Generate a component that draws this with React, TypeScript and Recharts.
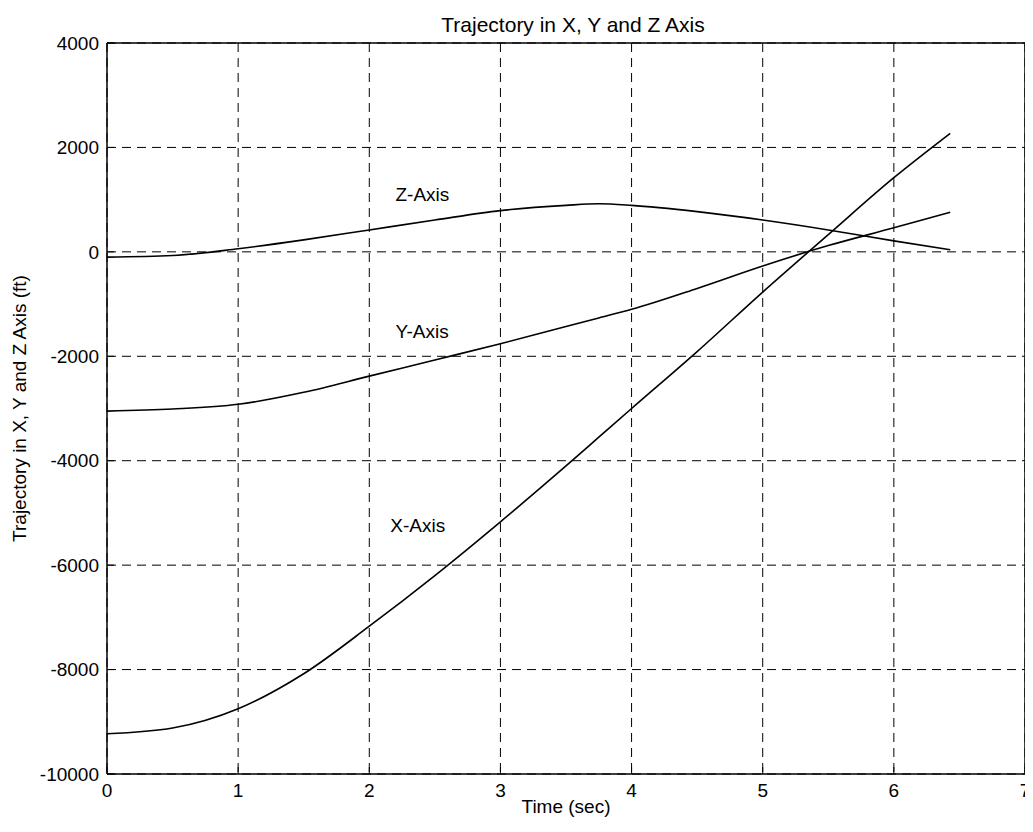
import {
  LineChart,
  Line,
  XAxis,
  YAxis,
  CartesianGrid,
  ReferenceLine,
  ReferenceDot,
} from "recharts";

const times = [0, 0.5, 1, 1.5, 2, 2.5, 3, 3.5, 3.75, 4, 4.5, 5, 5.5, 6, 6.43];
const xAxisTraj = [-9230, -9120, -8750, -8080, -7170, -6200, -5170, -4100, -3550, -3000, -1910, -770, 330, 1420, 2270];
const yAxisTraj = [-3050, -3010, -2920, -2690, -2380, -2070, -1760, -1430, -1265, -1100, -700, -270, 120, 460, 760];
const zAxisTraj = [-100, -70, 60, 230, 420, 610, 790, 890, 920, 890, 770, 610, 420, 210, 40];

const xTicks = [0, 1, 2, 3, 4, 5, 6, 7];
const yTicks = [-10000, -8000, -6000, -4000, -2000, 0, 2000, 4000];

// curve name tags, placed in data units
const tags = [
  { text: "Z-Axis", t: 2.2, v: 1100 },
  { text: "Y-Axis", t: 2.2, v: -1530 },
  { text: "X-Axis", t: 2.16, v: -5230 },
];

const data = times.map((t, i) => ({
  t,
  x: xAxisTraj[i],
  y: yAxisTraj[i],
  z: zAxisTraj[i],
}));

const FONT = '"Liberation Sans", Arial, Helvetica, sans-serif';
const tickStyle = { fill: "#000", fontSize: 19, fontFamily: FONT };

const App = () => {
  return (
    <div style={{ position: "relative", width: 1025, height: 816, background: "#fff", fontFamily: FONT }}>
      <div
        style={{
          position: "absolute",
          left: 0,
          width: 1130,
          top: 5,
          textAlign: "center",
          fontSize: 21,
          color: "#000",
          lineHeight: "24px",
        }}
      >
        Trajectory in X, Y and Z Axis
      </div>
      <LineChart
        width={1025}
        height={816}
        data={data}
        style={{ overflow: "visible" }}
        margin={{ top: 35, right: 8, bottom: 0, left: 0 }}
      >
        <CartesianGrid
          stroke="#000"
          strokeDasharray="9 6"
          strokeWidth={1}
          horizontalValues={yTicks}
          verticalValues={xTicks}
        />
        <XAxis
          dataKey="t"
          type="number"
          domain={[0, 7]}
          ticks={xTicks}
          interval={0}
          height={50}
          axisLine={{ stroke: "#000", strokeWidth: 1.5 }}
          tickLine={{ stroke: "#000" }}
          tickSize={-7}
          tickMargin={17}
          tick={tickStyle}
          label={{
            value: "Time (sec)",
            position: "insideBottom",
            offset: 11,
            fill: "#000",
            fontSize: 19,
            fontFamily: FONT,
          }}
        />
        <YAxis
          type="number"
          domain={[-10000, 4000]}
          ticks={yTicks}
          width={99}
          interval={0}
          axisLine={{ stroke: "#000", strokeWidth: 1.5 }}
          tickLine={{ stroke: "#000" }}
          tickSize={-7}
          tickMargin={15}
          tick={tickStyle}
          label={{
            value: "Trajectory in X, Y and Z Axis (ft)",
            angle: -90,
            position: "insideLeft",
            offset: 11,
            fill: "#000",
            fontSize: 19,
            fontFamily: FONT,
            style: { textAnchor: "middle" },
          }}
        />
        <ReferenceLine y={4000} stroke="#000" strokeWidth={1.5} />
        <ReferenceLine x={7} stroke="#000" strokeWidth={1.5} />
        <Line type="monotone" dataKey="x" stroke="#000" strokeWidth={1.6} dot={false} isAnimationActive={false} />
        <Line type="monotone" dataKey="y" stroke="#000" strokeWidth={1.6} dot={false} isAnimationActive={false} />
        <Line type="monotone" dataKey="z" stroke="#000" strokeWidth={1.6} dot={false} isAnimationActive={false} />
        {tags.map((tag) => (
          <ReferenceDot
            key={tag.text}
            x={tag.t}
            y={tag.v}
            r={0}
            stroke="none"
            fill="none"
            label={{
              value: tag.text,
              position: "right",
              offset: 0,
              fill: "#000",
              fontSize: 19,
              fontFamily: FONT,
            }}
          />
        ))}
      </LineChart>
    </div>
  );
};

export default App;
